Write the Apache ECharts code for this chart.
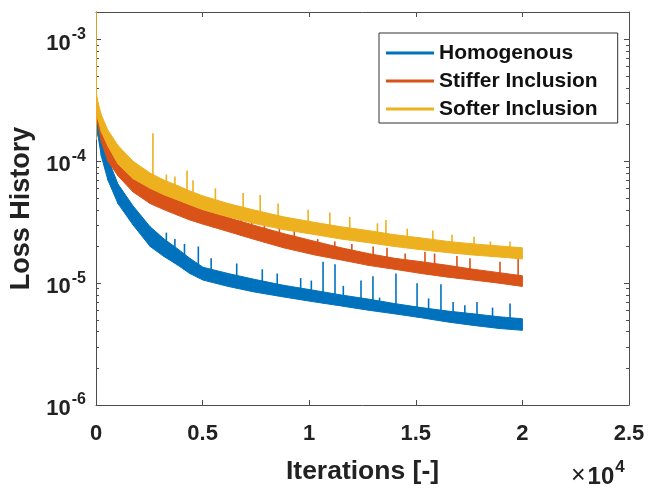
<!DOCTYPE html>
<html><head><meta charset="utf-8">
<script src="https://cdn.jsdelivr.net/npm/echarts@6/dist/echarts.min.js"></script>
<style>html,body{margin:0;padding:0;background:#fff}#c{width:649px;height:490px}</style>
</head><body><div id="c"></div>
<script>
// ---- data (loss values) ----
const seriesNames = ['Homogenous', 'Stiffer Inclusion', 'Softer Inclusion'];
const iters = [0, 20, 100, 250, 560, 1030, 1740, 2540, 3200, 3850, 4400, 5020, 6200, 7370, 8800, 10280, 11500, 12770, 14000, 15260, 16500, 17700, 18900, 20000];
const homHigh = [3.0e-4, 2.7e-4, 2.3e-4, 1.6e-4, 1.05e-4, 6.5e-5, 4.3e-5, 2.9e-5, 2.3e-5, 1.9e-5, 1.6e-5, 1.35e-5, 1.2e-5, 1.08e-5, 9.6e-6, 8.7e-6, 8.0e-6, 7.4e-6, 6.8e-6, 6.3e-6, 5.9e-6, 5.6e-6, 5.3e-6, 5.1e-6];
const homLow = [1.6e-4, 1.9e-4, 1.6e-4, 1.1e-4, 7.0e-5, 4.5e-5, 3.0e-5, 2.0e-5, 1.65e-5, 1.4e-5, 1.2e-5, 1.06e-5, 9.4e-6, 8.5e-6, 7.7e-6, 7.0e-6, 6.5e-6, 6.0e-6, 5.6e-6, 5.2e-6, 4.8e-6, 4.5e-6, 4.25e-6, 4.1e-6];
const stiffHigh = [4.0e-4, 3.2e-4, 2.8e-4, 2.0e-4, 1.45e-4, 1.08e-4, 8.0e-5, 6.2e-5, 5.4e-5, 4.8e-5, 4.4e-5, 4.0e-5, 3.45e-5, 3.0e-5, 2.55e-5, 2.2e-5, 1.95e-5, 1.75e-5, 1.6e-5, 1.5e-5, 1.4e-5, 1.3e-5, 1.22e-5, 1.15e-5];
const stiffLow = [2.0e-4, 2.4e-4, 2.0e-4, 1.45e-4, 1.0e-4, 7.6e-5, 5.6e-5, 4.5e-5, 4.0e-5, 3.6e-5, 3.3e-5, 3.05e-5, 2.65e-5, 2.3e-5, 1.95e-5, 1.7e-5, 1.55e-5, 1.4e-5, 1.3e-5, 1.2e-5, 1.12e-5, 1.06e-5, 1.0e-5, 9.4e-6];
const softHigh = [2.5e-3, 3.6e-4, 3.0e-4, 2.4e-4, 1.8e-4, 1.35e-4, 1.0e-4, 8.0e-5, 7.0e-5, 6.3e-5, 5.7e-5, 5.2e-5, 4.5e-5, 4.0e-5, 3.5e-5, 3.15e-5, 2.9e-5, 2.7e-5, 2.5e-5, 2.35e-5, 2.2e-5, 2.1e-5, 2.02e-5, 1.95e-5];
const softLow = [1.5e-4, 2.6e-4, 2.2e-4, 1.75e-4, 1.33e-4, 9.5e-5, 7.2e-5, 6.0e-5, 5.3e-5, 4.8e-5, 4.4e-5, 4.0e-5, 3.5e-5, 3.1e-5, 2.75e-5, 2.5e-5, 2.3e-5, 2.15e-5, 2.0e-5, 1.88e-5, 1.78e-5, 1.7e-5, 1.64e-5, 1.58e-5];
// spikes: iteration, peak loss
const homSpikeIt = [3300, 3700, 4150, 4800, 5400, 6600, 7800, 8500, 9600, 10100, 10650, 11210, 11600, 12430, 12990, 13300, 14070, 15060, 15600, 16180, 16750, 17300, 17870, 18600, 19420];
const homSpikePeak = [2.6e-5, 2.3e-5, 2.1e-5, 2.0e-5, 1.6e-5, 1.45e-5, 1.3e-5, 1.2e-5, 1.1e-5, 1.05e-5, 1.5e-5, 1.43e-5, 9.5e-6, 1.05e-5, 1.14e-5, 7.6e-6, 1.2e-5, 1.0e-5, 7.5e-6, 9.8e-6, 7.0e-6, 6.6e-6, 7.0e-6, 6.3e-6, 6.8e-6];
const stiffSpikeIt = [5500, 6300, 6800, 7300, 7900, 8600, 9300, 10400, 11200, 12000, 13000, 13650, 14500, 15430, 15880, 16930, 17540, 18950, 19800];
const stiffSpikePeak = [4.6e-5, 4.2e-5, 3.9e-5, 3.8e-5, 3.3e-5, 3.0e-5, 2.8e-5, 2.3e-5, 2.2e-5, 2.1e-5, 2.0e-5, 1.95e-5, 1.75e-5, 1.8e-5, 1.75e-5, 1.67e-5, 1.6e-5, 1.5e-5, 1.6e-5];
const softSpikeIt = [2670, 3300, 3700, 4270, 4550, 5600, 6900, 7700, 8540, 9950, 10970, 11900, 13200, 13600, 14600, 15800, 16700, 17730, 18500, 19420];
const softSpikePeak = [1.7e-4, 7.8e-5, 7.5e-5, 8.4e-5, 7.0e-5, 6.0e-5, 5.5e-5, 5.3e-5, 4.5e-5, 4.0e-5, 3.8e-5, 3.5e-5, 3.1e-5, 3.3e-5, 2.8e-5, 2.7e-5, 2.5e-5, 2.4e-5, 2.2e-5, 2.2e-5];
const xTickLabels = ['0', '0.5', '1', '1.5', '2', '2.5'];
const yDecades = [-6, -5, -4, -3];
const yMaxLoss = 1.68e-3;

// ---- build ----
const colors = ['#0072BD', '#D95319', '#EDB120'];
const L = Math.log10;
const bands = [[homLow, homHigh, homSpikeIt, homSpikePeak], [stiffLow, stiffHigh, stiffSpikeIt, stiffSpikePeak], [softLow, softHigh, softSpikeIt, softSpikePeak]];
function lowAt(low, it) {
  for (let i = 1; i < iters.length; i++) {
    if (it <= iters[i]) {
      const t = (it - iters[i - 1]) / (iters[i] - iters[i - 1]);
      return L(low[i - 1]) * (1 - t) + L(low[i]) * t;
    }
  }
  return L(low[low.length - 1]);
}
const yMin = yDecades[0], yMax = L(yMaxLoss);
const minor = [];
for (let n = -6; n < -3; n++) for (let k = 2; k <= 9; k++) minor.push(L(k * Math.pow(10, n)));
const fontFam = '"Liberation Sans", Arial, sans-serif';
const series = [];
bands.forEach((b, i) => {
  const [low, high, sIt, sPk] = b;
  const segs = [];
  for (let j = 0; j < iters.length - 1; j++) {
    segs.push([iters[j], L(low[j]), L(high[j]), iters[j + 1], L(low[j + 1]), L(high[j + 1])]);
  }
  series.push({
    name: seriesNames[i], type: 'custom', z: 2 + i * 2, clip: true,
    itemStyle: { color: colors[i] },
    data: segs,
    renderItem: (params, api) => {
      const a = api.coord([api.value(0), api.value(1)]);
      const bq = api.coord([api.value(3), api.value(4)]);
      const c = api.coord([api.value(3), api.value(5)]);
      const d = api.coord([api.value(0), api.value(2)]);
      return { type: 'polygon', shape: { points: [a, bq, c, d] }, style: { fill: colors[i], stroke: colors[i], lineWidth: 1 } };
    }
  });
  series.push({
    name: seriesNames[i] + '_spk', type: 'custom', z: 3 + i * 2, clip: true, silent: true,
    data: sIt.map((x, j) => [x, L(sPk[j]), lowAt(low, x)]),
    renderItem: (params, api) => {
      const p1 = api.coord([api.value(0), api.value(1)]);
      const p0 = api.coord([api.value(0), api.value(2)]);
      return { type: 'line', shape: { x1: p0[0], y1: p0[1], x2: p1[0], y2: p1[1] }, style: { stroke: colors[i], lineWidth: 1.6 } };
    }
  });
});
const axisColor = '#4d4d4d';
const option = {
  animation: false,
  grid: { left: 96, right: 20, top: 12, bottom: 79, show: false },
  legend: {
    data: seriesNames, orient: 'vertical', left: 379, top: 33,
    padding: [9, 20, 3, 7], itemGap: 6, itemWidth: 48, itemHeight: 3, icon: 'rect',
    borderColor: '#333', borderWidth: 1, backgroundColor: '#fff',
    textStyle: { fontSize: 21, fontWeight: 'bold', color: '#111', fontFamily: fontFam, lineHeight: 22 }
  },
  xAxis: [
    { type: 'value', min: 0, max: 25000, interval: 5000, position: 'bottom',
      axisLine: { show: true, lineStyle: { color: axisColor } },
      axisTick: { inside: true, length: 5, lineStyle: { color: axisColor } },
      splitLine: { show: false },
      axisLabel: { margin: 18, fontSize: 22, fontWeight: 'bold', color: '#222', fontFamily: fontFam,
        formatter: v => xTickLabels[Math.round(v / 5000)] },
      name: 'Iterations [-]', nameLocation: 'middle', nameGap: 53,
      nameTextStyle: { fontSize: 26.5, fontWeight: 'bold', color: '#222', fontFamily: fontFam } },
    { type: 'value', min: 0, max: 25000, interval: 5000, position: 'top',
      axisLine: { show: true, lineStyle: { color: axisColor } },
      axisTick: { inside: true, length: 5, lineStyle: { color: axisColor } },
      axisLabel: { show: false }, splitLine: { show: false } }
  ],
  yAxis: [
    { type: 'value', min: yMin, max: yMax, interval: 1, position: 'left',
      axisLine: { show: true, lineStyle: { color: axisColor } },
      axisTick: { inside: true, length: 5, lineStyle: { color: axisColor } },
      splitLine: { show: false },
      axisLabel: { margin: 10, color: '#222', fontFamily: fontFam,
        formatter: v => (Math.abs(v - Math.round(v)) < 1e-9 ? '{b|10}{s|' + Math.round(v) + '}' : ''),
        rich: { b: { fontSize: 22, fontWeight: 'bold', fontFamily: fontFam, color: '#222', padding: [8, 0, 0, 0] },
                s: { fontSize: 16, fontWeight: 'bold', fontFamily: fontFam, color: '#222', padding: [0, 0, 10, 1] } } },
      name: 'Loss History', nameLocation: 'middle', nameGap: 61, nameRotate: 90,
      nameTextStyle: { fontSize: 27, fontWeight: 'bold', color: '#222', fontFamily: fontFam } },
    { type: 'value', min: yMin, max: yMax, position: 'left',
      axisLine: { show: false }, axisLabel: { show: false }, splitLine: { show: false },
      axisTick: { inside: true, length: 3, customValues: minor, lineStyle: { color: axisColor } } },
    { type: 'value', min: yMin, max: yMax, interval: 1, position: 'right',
      axisLine: { show: true, lineStyle: { color: axisColor } }, axisLabel: { show: false }, splitLine: { show: false },
      axisTick: { inside: true, length: 5, lineStyle: { color: axisColor } } },
    { type: 'value', min: yMin, max: yMax, position: 'right',
      axisLine: { show: false }, axisLabel: { show: false }, splitLine: { show: false },
      axisTick: { inside: true, length: 3, customValues: minor, lineStyle: { color: axisColor } } }
  ],
  graphic: [{
    type: 'text', left: 571, top: 459,
    style: { rich: { x: { fontSize: 25, fontFamily: fontFam, fill: '#222', padding: [6, 2, 0, 0] }, b: { fontSize: 24, fontWeight: 'bold', fontFamily: fontFam, fill: '#222', padding: [8, 0, 0, 0] }, s: { fontSize: 17, fontWeight: 'bold', fontFamily: fontFam, fill: '#222', padding: [0, 0, 11, 1] } },
      text: '{x|×}{b|10}{s|4}' }
  }],
  series: series
};
const chart = echarts.init(document.getElementById('c'));
chart.setOption(option);
</script></body></html>
